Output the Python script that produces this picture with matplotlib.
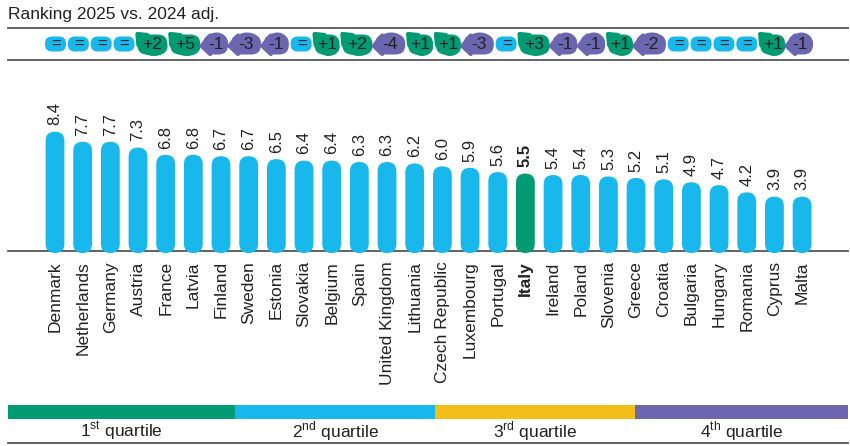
import matplotlib
matplotlib.use("Agg")
import matplotlib.pyplot as plt
from matplotlib.patches import FancyBboxPatch, Polygon, Rectangle, Ellipse

plt.rcParams['font.family'] = ['Liberation Sans', 'DejaVu Sans']
plt.rcParams['mathtext.fontset'] = 'custom'
plt.rcParams['mathtext.rm'] = 'Liberation Sans'

# data
countries = ["Denmark", "Netherlands", "Germany", "Austria", "France", "Latvia", "Finland",
             "Sweden", "Estonia", "Slovakia", "Belgium", "Spain", "United Kingdom", "Lithuania",
             "Czech Republic", "Luxembourg", "Portugal", "Italy", "Ireland", "Poland", "Slovenia",
             "Greece", "Croatia", "Bulgaria", "Hungary", "Romania", "Cyprus", "Malta"]
scores = [8.4, 7.7, 7.7, 7.3, 6.8, 6.8, 6.7, 6.7, 6.5, 6.4, 6.4, 6.3, 6.3, 6.2,
          6.0, 5.9, 5.6, 5.5, 5.4, 5.4, 5.3, 5.2, 5.1, 4.9, 4.7, 4.2, 3.9, 3.9]
rank_change = ["=", "=", "=", "=", "+2", "+5", "-1", "-3", "-1", "=", "+1", "+2", "-4", "+1",
               "+1", "-3", "=", "+3", "-1", "-1", "+1", "-2", "=", "=", "=", "=", "+1", "-1"]
quartiles = [r"1$^{\rm st}$ quartile", r"2$^{\rm nd}$ quartile",
             r"3$^{\rm rd}$ quartile", r"4$^{\rm th}$ quartile"]
highlight = "Italy"

BLUE = "#19b8ec"
GREEN = "#009b72"
YELLOW = "#f4be1a"
PURPLE = "#6c66b0"
TXT = "#222222"
LINE = "#555555"

W, H = 850, 446
fig = plt.figure(figsize=(W / 100, H / 100), dpi=100)

# overlay axes in pixel units for the decoration
ov = fig.add_axes([0, 0, 1, 1])
ov.set_xlim(0, W)
ov.set_ylim(H, 0)
ov.axis("off")

# bar axes: bar 0 centred at x=55px, step 27.67px, y=0 at 253px, 14.44 px per unit
step = 27.67
ppu = 14.44
x0_px, x1_px = 8, 848
base_px, top_px = 253, 90
ax = fig.add_axes([x0_px / W, (H - base_px) / H, (x1_px - x0_px) / W, (base_px - top_px) / H])
ax.set_xlim((x0_px - 55) / step, (x1_px - 55) / step)
ax.set_ylim(0, (base_px - top_px) / ppu)
ax.patch.set_alpha(0)
for s in ax.spines.values():
    s.set_visible(False)
ax.set_yticks([])

n = len(countries)
colors = [GREEN if c == highlight else BLUE for c in countries]
bars = ax.bar(range(n), scores, width=0.68, color=colors)
# swap rectangles for rounded ones
aspect = step / ppu
for b in bars:
    x, y = b.get_x(), b.get_y()
    w, h = b.get_width(), b.get_height()
    rp = FancyBboxPatch((x, y), w, h, boxstyle="round,pad=0,rounding_size=%f" % (w / 2 * 0.97),
                        mutation_aspect=aspect, fc=b.get_facecolor(), ec="none", zorder=2)
    ax.add_patch(rp)
    b.set_visible(False)

for i, v in enumerate(scores):
    ax.annotate("%.1f" % v, (i, v), xytext=(0, 4.5), textcoords="offset points",
                rotation=90, ha="center", va="bottom", fontsize=12, color=TXT,
                fontweight="bold" if countries[i] == highlight else "normal")

ax.set_xticks(range(n), countries, rotation=90, fontsize=12.5, color=TXT)
ax.tick_params(axis="x", length=0, pad=6)
for lab in ax.get_xticklabels():
    if lab.get_text() == highlight:
        lab.set_fontweight("bold")

# baseline
ov.plot([8, 848], [251, 251], color=LINE, lw=1.3, zorder=5)

# title and top band
ov.text(8, 15, "Ranking 2025 vs. 2024 adj.", fontsize=12.5, color=TXT, va="center", ha="left")
ov.plot([8, 848], [28, 28], color=LINE, lw=1.3)
ov.plot([8, 848], [60, 60], color=LINE, lw=1.3)


def badge_width(lab):
    if lab == "=":
        return 21
    if lab[1] == "1":
        return 26
    return 31


widths = [badge_width(l) for l in rank_change]
gap = (813 - 45 - sum(widths)) / (len(widths) - 1)
cy = 44
xpos = 45
for lab, w in zip(rank_change, widths):
    cx = xpos + w / 2
    if lab == "=":
        ov.add_patch(FancyBboxPatch((xpos, cy - 7.5), w, 15, boxstyle="round,pad=0,rounding_size=7",
                                    fc=BLUE, ec="none"))
    else:
        col = GREEN if lab.startswith("+") else PURPLE
        hh = 22
        ov.add_patch(FancyBboxPatch((xpos + 1, cy - hh / 2 + 1.5), w - 1, hh - 2,
                                    boxstyle="round,pad=0,rounding_size=9.5", fc=col, ec="none"))
        if col == GREEN:
            # bump to the upper left, bulge at the bottom
            ov.add_patch(Ellipse((cx + 2, cy + 3), w - 4, hh - 4, fc=col, ec="none"))
            pts = [(xpos + 1, cy - hh / 2 + 1), (xpos + 11, cy - hh / 2 + 2), (xpos + 2, cy + 1)]
        else:
            # point to the left, hump at the upper right
            ov.add_patch(Ellipse((cx + 1.5, cy - 1.5), w - 4, hh - 2, fc=col, ec="none"))
            pts = [(xpos - 0.5, cy + 2), (xpos + 8, cy - hh / 2 + 2.5), (xpos + 8, cy + hh / 2 - 1)]
        ov.add_patch(Polygon(pts, closed=True, fc=col, ec=col, lw=3, joinstyle="round"))
    ov.text(cx + 0.5, cy + 0.5, lab, fontsize=12.5 if lab != "=" else 12, color=TXT,
            ha="center", va="center")
    xpos += w + gap

# quartile strip
edges = [8, 235, 435, 635, 848]
qcols = [GREEN, BLUE, YELLOW, PURPLE]
for k in range(4):
    ov.add_patch(Rectangle((edges[k], 405), edges[k + 1] - edges[k], 14, fc=qcols[k], ec="none"))
    ov.text((edges[k] + edges[k + 1]) / 2, 431, quartiles[k], fontsize=12.5, color=TXT,
            ha="center", va="center")
ov.plot([8, 848], [443, 443], color=LINE, lw=1.3)

fig.savefig("out.png", dpi=100)
